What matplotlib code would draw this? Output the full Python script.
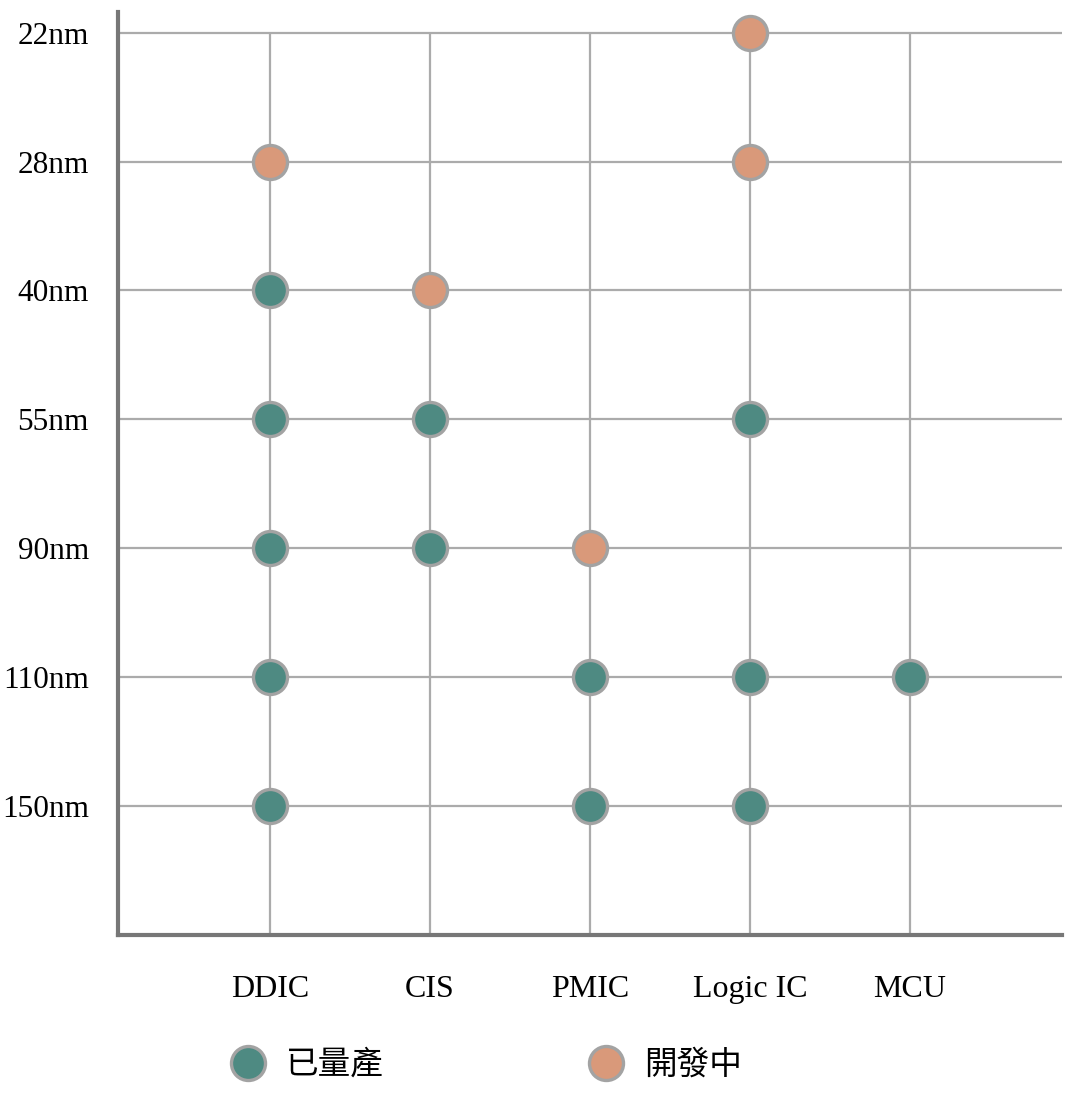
import matplotlib.pyplot as plt
from matplotlib.lines import Line2D

categories = ['DDIC', 'CIS', 'PMIC', 'Logic IC', 'MCU']
nodes = ['150nm', '110nm', '90nm', '55nm', '40nm', '28nm', '22nm']

# 已量產 (mass production): category -> nodes
mass_cat = ['DDIC', 'DDIC', 'DDIC', 'DDIC', 'DDIC', 'CIS', 'CIS', 'PMIC', 'PMIC',
            'Logic IC', 'Logic IC', 'Logic IC', 'MCU']
mass_node = ['40nm', '55nm', '90nm', '110nm', '150nm', '55nm', '90nm', '110nm', '150nm',
             '55nm', '110nm', '150nm', '110nm']

# 開發中 (in development)
dev_cat = ['DDIC', 'CIS', 'PMIC', 'Logic IC', 'Logic IC']
dev_node = ['28nm', '40nm', '90nm', '22nm', '28nm']

teal = '#4e8a82'
orange = '#d9997a'
edge = '#a3a3a3'
grid_c = '#ababab'
spine_c = '#777777'

plt.rcParams['font.family'] = ['Liberation Serif', 'Noto Sans CJK TC', 'DejaVu Sans']

fig = plt.figure(figsize=(10.8, 10.95), dpi=100)
ax = fig.add_axes([118 / 1080, 1 - 935 / 1095, (1062 - 118) / 1080, (935 - 12) / 1095])

xpos = {c: i + 1 for i, c in enumerate(categories)}
ypos = {n: i for i, n in enumerate(nodes)}
top = len(nodes) - 1

ax.set_xlim(0.05, 5.95)
ax.set_ylim(-1.0, 6.16)

ax.hlines(range(len(nodes)), 0.05, 5.95, color=grid_c, lw=1.6, zorder=1)
ax.vlines([xpos[c] for c in categories], -1.0, top, color=grid_c, lw=1.6, zorder=1)

ax.scatter([xpos[c] for c in mass_cat], [ypos[n] for n in mass_node],
           s=600, c=teal, edgecolors=edge, linewidths=2.4, zorder=3)
ax.scatter([xpos[c] for c in dev_cat], [ypos[n] for n in dev_node],
           s=600, c=orange, edgecolors=edge, linewidths=2.4, zorder=3)

ax.set_xticks([xpos[c] for c in categories])
ax.set_xticklabels(categories, fontsize=23)
ax.set_yticks(range(len(nodes)))
ax.set_yticklabels(nodes, fontsize=22.5)
ax.tick_params(length=0)
ax.tick_params(axis='x', pad=29)
ax.tick_params(axis='y', pad=21)

for s in ['top', 'right']:
    ax.spines[s].set_visible(False)
for s in ['left', 'bottom']:
    ax.spines[s].set_color(spine_c)
    ax.spines[s].set_linewidth(3)

handles = [
    Line2D([], [], ls='', marker='o', ms=24.5, mfc=teal, mec=edge, mew=2.4),
    Line2D([], [], ls='', marker='o', ms=24.5, mfc=orange, mec=edge, mew=2.4),
]
fig.legend(handles, ['已量產', '開發中'], loc='center left',
           bbox_to_anchor=(228 / 1080, 1 - 1065 / 1095), ncol=2, frameon=False,
           prop={'family': 'Noto Sans CJK TC', 'size': 23.5},
           handletextpad=0.58, columnspacing=6.2, handlelength=1.2,
           borderpad=0, borderaxespad=0)

fig.savefig('out.png', dpi=100)
